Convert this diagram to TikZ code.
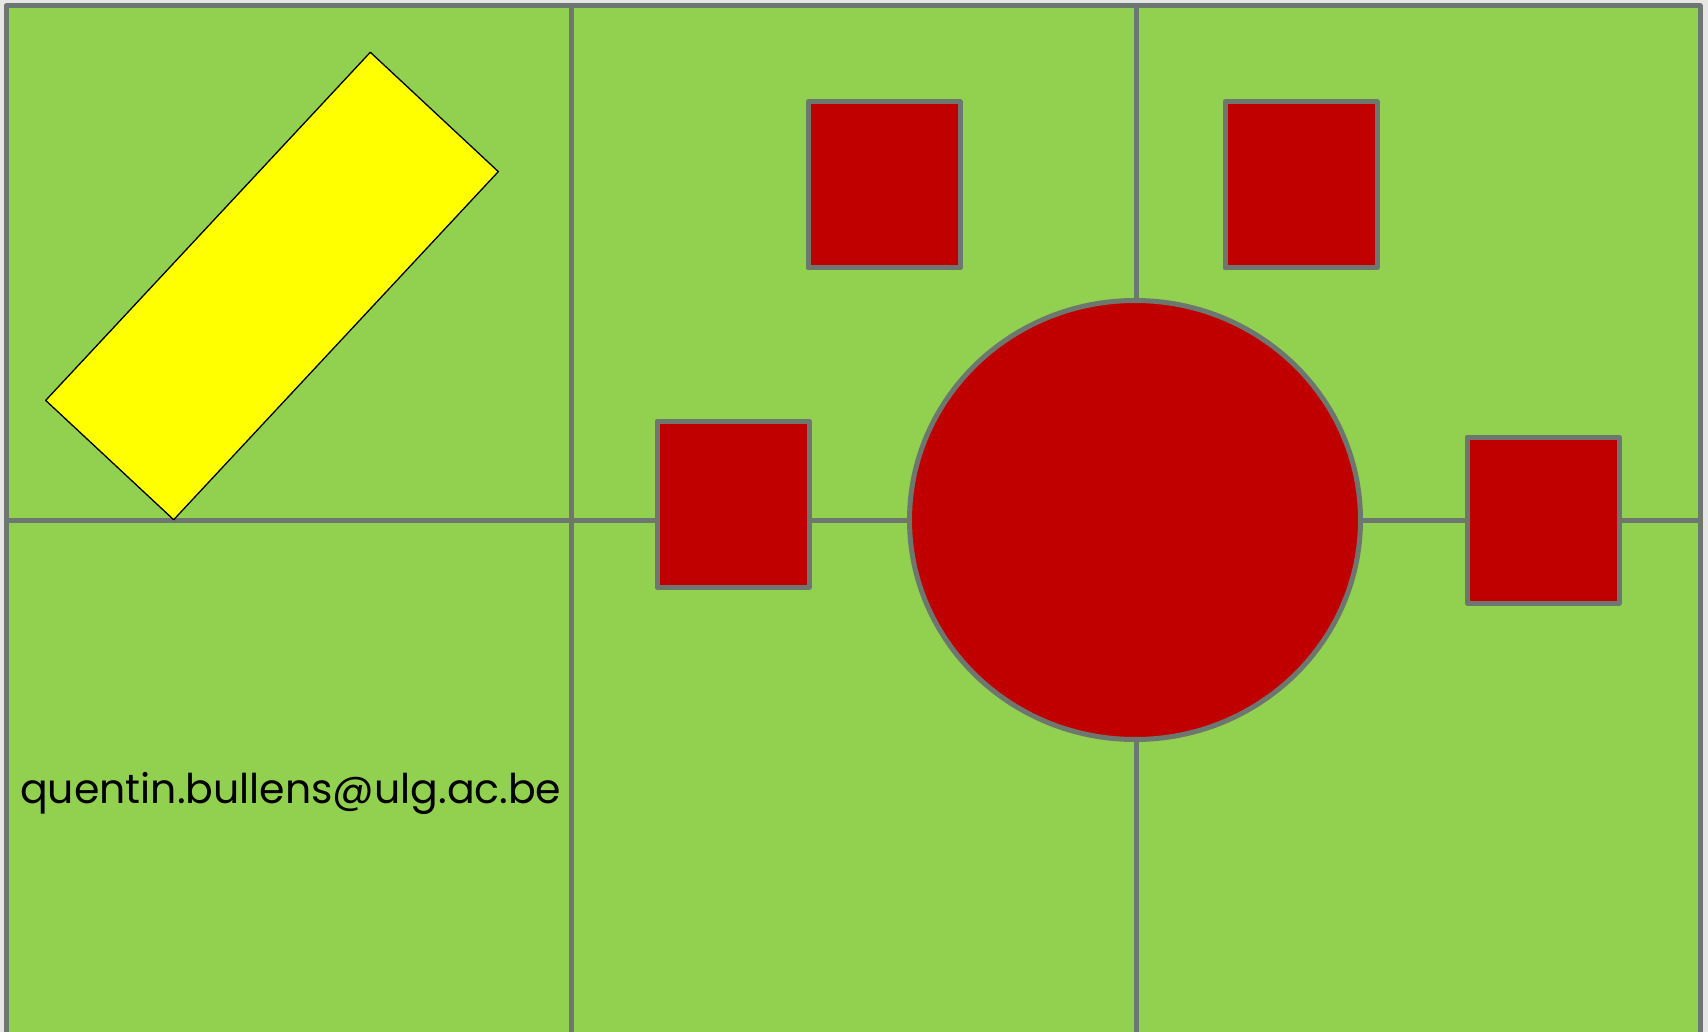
\documentclass[tikz,border=0pt]{standalone}
\usepackage{fontspec}
\setmainfont{Poppins}
\usetikzlibrary{positioning, shapes.geometric}
\definecolor{lawn}{HTML}{92D050}
\definecolor{brick}{HTML}{C00000}
\definecolor{slate}{HTML}{6D776F}
\definecolor{paper}{HTML}{E6E6E6}
\definecolor{lemon}{HTML}{FFFF00}

\begin{document}
\begin{tikzpicture}[x=1pt, y=-1pt, on grid, line join=round,
		wall/.style={draw=slate, line width=5pt},
		room/.style={rectangle, fill=brick, draw=slate, line width=5pt, minimum width=152pt, minimum height=166pt, inner sep=0pt}]
			\useasboundingbox (0,0) rectangle (1708,1032);
			\fill[paper] (0,0) rectangle (1708,1032);
			\draw[wall, fill=lawn] (6,6) rectangle (1700,1034);
			\draw[wall] (571,6) -- (571,1034);
			\draw[wall] (1136,6) -- (1136,1034);
			\draw[wall] (6,520) -- (1700,520);
			\node[ellipse, fill=brick, wall, minimum width=451pt, minimum height=439pt, inner sep=0pt] (hub) at (1135,520) {};
			\node[room] (nw) [above left=335pt and 251pt of hub] {};
			\node[room] (ne) [above right=335pt and 166pt of hub] {};
			\node[room] (w) [above left=16pt and 402pt of hub] {};
			\node[room] (e) [right=408pt of hub] {};
			\node[rectangle, fill=lemon, draw=black, line width=1.3pt, rotate=47, minimum width=476pt, minimum height=175pt, inner sep=0pt] (bar) at (272,286) {};
			\node[anchor=base west, inner sep=0pt, font=\fontsize{41}{44}\selectfont] (mail) at (20,803) {quentin.bullens@ulg.ac.be};
		\end{tikzpicture}
\end{document}
